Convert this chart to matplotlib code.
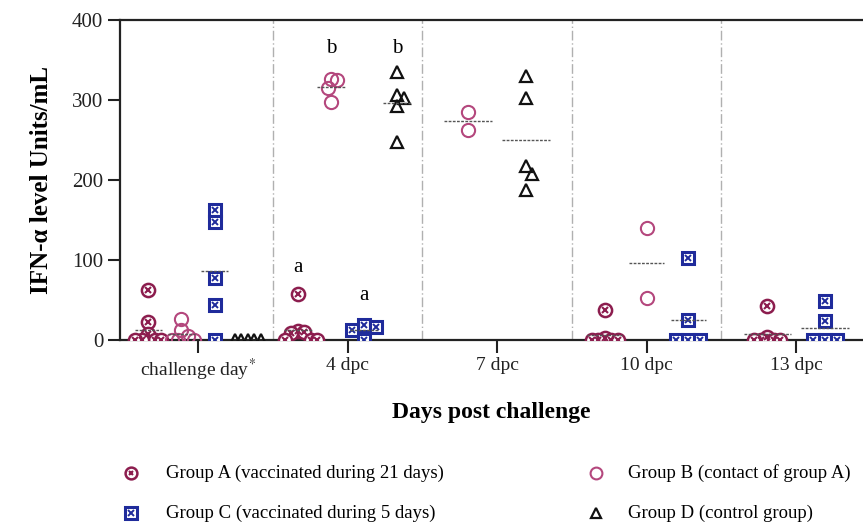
import numpy as np
import matplotlib.pyplot as plt

plt.rcParams["font.family"] = ["Liberation Serif", "DejaVu Serif"]
plt.rcParams["mathtext.fontset"] = "stix"

categories = ["challenge day$^{*}$", "4 dpc", "7 dpc", "10 dpc", "13 dpc"]
group_names = [
    "Group A (vaccinated during 21 days)",
    "Group B (contact of group A)",
    "Group C (vaccinated during 5 days)",
    "Group D (control group)",
]
# IFN-alpha values per day, one list per animal group
group_a = [[62, 22, 7, 0, 0, 0, 0], [57, 11, 10, 9, 0, 0, 0], [], [38, 2, 0, 0, 0, 0], [42, 4, 0, 0, 0, 0]]
group_b = [[26, 12, 5, 0, 0, 0], [326, 325, 315, 298], [285, 262], [140, 53], []]
group_c = [[162, 147, 78, 44, 0], [19, 16, 13, 0], [], [103, 25, 0, 0, 0], [49, 24, 0, 0, 0]]
group_d = [[0, 0, 0, 0, 0], [335, 306, 302, 293, 247], [330, 303, 218, 208, 188], [], []]
# significance letters on 4 dpc
letter_groups = [0, 1, 2, 3]
letter_text = ["a", "b", "a", "b"]
letter_y = [91, 365, 56, 365]

groups = [group_a, group_b, group_c, group_d]
colors = ["#8c1d4e", "#b4477d", "#1f2b9b", "#111111"]
swarm_dx = [6.5, 6.5, 12.0, 6.5]  # horizontal spread per group, pixels

PX_X = 149.5  # pixels per category unit
PX_Y = 0.8    # pixels per value unit


def swarm(values, dx_min=6.5, dy_min=10.0):
    """Simple beeswarm: x offsets (data units) so markers do not pile up."""
    order = np.argsort(-values, kind="stable")
    placed = []
    offsets = np.zeros(len(values))
    steps = [0.0]
    for k in range(1, 40):
        steps += [k * 0.5, -k * 0.5]
    for idx in order:
        y = values[idx] * PX_Y
        for s in steps:
            x = s * dx_min
            if all(((x - px) / dx_min) ** 2 + ((y - py) / dy_min) ** 2 >= 1
                   for px, py in placed):
                break
        placed.append((x, y))
        offsets[idx] = x / PX_X
    return offsets


def draw_marker(ax, x, y, gi, size=9.5):
    if gi == 0:
        ax.plot(x, y, "o", ms=size, mfc="white", mec=colors[0], mew=1.8, ls="none", zorder=3)
        ax.plot(x, y, "x", ms=size * 0.42, mec=colors[0], mew=1.5, ls="none", zorder=4)
    elif gi == 1:
        ax.plot(x, y, "o", ms=size, mfc="none", mec=colors[1], mew=1.5, ls="none", zorder=3)
    elif gi == 2:
        ax.plot(x, y, "s", ms=size * 0.95, mfc="white", mec=colors[2], mew=2.2, ls="none", zorder=3)
        ax.plot(x, y, "x", ms=size * 0.48, mec=colors[2], mew=1.4, ls="none", zorder=4)
    else:
        ax.plot(x, y, "^", ms=size * 0.9, mfc="none", mec=colors[3], mew=1.6, ls="none", zorder=3)


fig = plt.figure(figsize=(8.63, 5.31), dpi=100)
ax = fig.add_axes([0.139, 0.3597, 0.861, 0.6026])

slot_x = {}
for ci in range(len(categories)):
    present = [gi for gi in range(4) if len(groups[gi][ci])]
    n = len(present)
    spacing = 1.05 / (n + 0.75)
    for j, gi in enumerate(present):
        xc = ci + (j - (n - 1) / 2) * spacing
        slot_x[(gi, ci)] = xc
        vals = np.array(groups[gi][ci], dtype=float)
        draw_marker(ax, xc + swarm(vals, dx_min=swarm_dx[gi]), vals, gi)
        half = 0.42 * spacing
        ax.plot([xc - half, xc + half], [vals.mean()] * 2, color="#555555",
                lw=1.0, ls=(0, (2, 1)), zorder=5)

for gi, txt, y in zip(letter_groups, letter_text, letter_y):
    ax.text(slot_x[(gi, 1)], y, txt, ha="center", va="center", fontsize=15)

for ci in range(len(categories) - 1):
    ax.axvline(ci + 0.5, color="#b0b0b0", lw=1.0, ls=(0, (7, 2, 1, 2)), zorder=1)

ax.set_xlim(-0.522, 4.448)
ax.set_ylim(0, 400)
ax.set_yticks([0, 100, 200, 300, 400])
ax.set_xticks(range(len(categories)))
ax.set_xticklabels(categories)
ax.tick_params(axis="both", direction="out", length=9, width=1.5, colors="#222222",
               labelsize=15, pad=3)
ax.tick_params(axis="x", labelsize=14, pad=3)
for side in ("left", "bottom", "top"):
    ax.spines[side].set_linewidth(1.6)
    ax.spines[side].set_color("#222222")
ax.spines["right"].set_visible(False)
ax.set_ylabel("IFN-α level Units/mL", fontsize=18, fontweight="bold", labelpad=14)
ax.set_xlabel("Days post challenge", fontsize=17, fontweight="bold", labelpad=14)

# legend drawn in figure pixel coordinates
lax = fig.add_axes([0, 0, 1, 1])
lax.set_xlim(0, 863)
lax.set_ylim(531, 0)
lax.axis("off")
legend_order = [0, 2, 1, 3]
legend_marker_x = [131, 131, 596, 596]
legend_text_x = [166, 166, 628, 628]
legend_y = [473, 513, 473, 513]
for gi, mx, tx, ly in zip(legend_order, legend_marker_x, legend_text_x, legend_y):
    draw_marker(lax, [mx], [ly], gi, size=8.5)
    lax.text(tx, ly, group_names[gi], ha="left", va="center", fontsize=13.5)

fig.savefig("out.png", dpi=100)
